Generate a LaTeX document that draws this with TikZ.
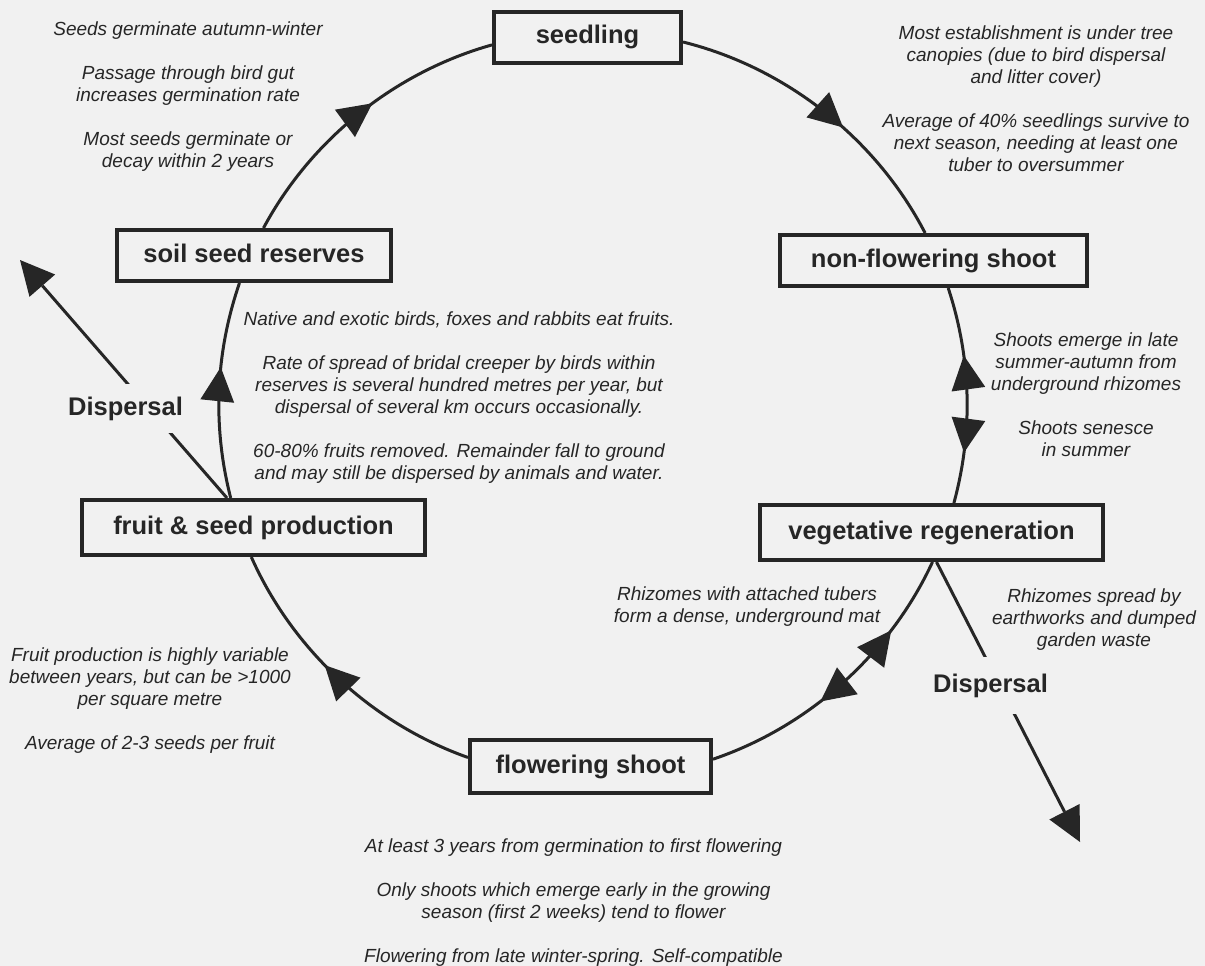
\documentclass[tikz,border=0pt]{standalone}
\usepackage{fontspec}
\setmainfont{Liberation Sans}
\usetikzlibrary{arrows.meta,decorations.markings}
\definecolor{ink}{HTML}{262626}
\definecolor{paper}{HTML}{F1F1F1}

\begin{document}
\begin{tikzpicture}[x=1pt,y=1pt,
  bigtri/.tip={Triangle[length=34pt,width=34pt,line width=0pt]},
  stage/.style={draw=ink,line width=4pt,fill=paper,text=ink,inner sep=0pt,
    font=\bfseries\fontsize{25.5}{30}\selectfont,text height=18.5pt,text depth=5.5pt},
  note/.style={font=\itshape\fontsize{19}{22}\selectfont,text=ink,align=center,anchor=north,inner sep=0pt},
  cyc/.style={draw=ink,line width=3pt,looseness=0.88},
  fwd/.style={postaction={decorate},decoration={markings,mark=at position #1 with {\arrow{bigtri}}}},
  twoway/.style 2 args={postaction={decorate},decoration={markings,
    mark=at position #1 with {\arrowreversed{bigtri}},
    mark=at position #2 with {\arrow{bigtri}}}},
  displine/.style={draw=ink,line width=3pt,-{bigtri}},
  displabel/.style={fill=paper,text=ink,anchor=base,inner xsep=4pt,inner ysep=13pt,
    font=\bfseries\fontsize{25.5}{30}\selectfont}]
  \path[use as bounding box,fill=paper] (0,0) rectangle (1205,-966);

  % life-cycle stages
  \node[stage,minimum width=187pt,minimum height=51pt] (seedling) at (587.5,-37.5) {seedling};
  \node[stage,minimum width=307pt,minimum height=51pt] (nonflower) at (933.5,-260.5) {non-flowering shoot};
  \node[stage,minimum width=343pt,minimum height=55pt] (veg) at (931.5,-532.5) {vegetative regeneration};
  \node[stage,minimum width=241pt,minimum height=53pt] (flowering) at (590.5,-766.5) {flowering shoot};
  \node[stage,minimum width=343pt,minimum height=55pt] (fruit) at (253.5,-527.5) {fruit \& seed production};
  \node[stage,minimum width=274pt,minimum height=51pt] (soil) at (254,-255.5) {soil seed reserves};

  % the cycle
  \draw[cyc,fwd=0.555] ([xshift=9.5pt]soil.north) to[out=61.76,in=195.67] ([yshift=-7.4pt]seedling.west);
  \draw[cyc,fwd=0.577] ([yshift=-4.5pt]seedling.east) to[out=-13.93,in=117.38] ([xshift=-8.4pt]nonflower.north);
  \draw[cyc,twoway={0.318}{0.764}] ([xshift=14.7pt]nonflower.south) to[out=-71.76,in=74.81] ([xshift=22.4pt]veg.north);
  \draw[cyc,twoway={0.264}{0.596}] ([xshift=1pt]veg.south) to[out=-114.82,in=18.72] ([yshift=7.3pt]flowering.east);
  \draw[cyc,fwd=0.567] ([yshift=9pt]flowering.west) to[out=160.47,in=293.98] ([xshift=-2.2pt]fruit.south);
  \draw[cyc,fwd=0.604] ([xshift=-22.8pt]fruit.north) to[out=104.4,in=250.96] ([xshift=-14.5pt]soil.south);

  % dispersal
  \coordinate (dispLend) at (20,-260);
  \coordinate (dispRend) at (1080,-842);
  \draw[displine] ([xshift=-26.5pt]fruit.north) -- (dispLend);
  \draw[displine] ([xshift=5pt]veg.south) -- (dispRend);
  \node[displabel] (dispL) at (125.5,-415) {Dispersal};
  \node[displabel,inner ysep=17pt] (dispR) at (990.5,-692) {Dispersal};

  % notes
  \node[note] (germnote) at (188,-22) {Seeds germinate autumn-winter\\[22pt]
    Passage through bird gut\\ increases germination rate\\[22pt]
    Most seeds germinate or\\ decay within 2 years};
  \node[note] (estabnote) at (1036,-26) {Most establishment is under tree\\
    canopies (due to bird dispersal\\ and litter cover)\\[22pt]
    Average of 40\% seedlings survive to\\ next season, needing at least one\\ tuber to oversummer};
  \node[note] (fruitnote) at (459,-312) {Native and exotic birds, foxes and rabbits eat fruits.\\[22pt]
    Rate of spread of bridal creeper by birds within\\
    reserves is several hundred metres per year, but\\
    dispersal of several km occurs occasionally.\\[22pt]
    60-80\% fruits removed. Remainder fall to ground\\
    and may still be dispersed by animals and water.};
  \node[note] (shootnote) at (1086,-333) {Shoots emerge in late\\ summer-autumn from\\
    underground rhizomes\\[22pt] Shoots senesce\\ in summer};
  \node[note] (matnote) at (747,-587) {Rhizomes with attached tubers\\ form a dense, underground mat};
  \node[note] (spreadnote) at (1094,-589) {Rhizomes spread by\\ earthworks and dumped\\ garden waste};
  \node[note] (yieldnote) at (150,-648) {Fruit production is highly variable\\
    between years, but can be >1000\\ per square metre\\[22pt] Average of 2-3 seeds per fruit};
  \node[note] (flowernote) at (573.5,-839) {At least 3 years from germination to first flowering\\[22pt]
    Only shoots which emerge early in the growing\\ season (first 2 weeks) tend to flower\\[22pt]
    Flowering from late winter-spring. Self-compatible};
\end{tikzpicture}
\end{document}
